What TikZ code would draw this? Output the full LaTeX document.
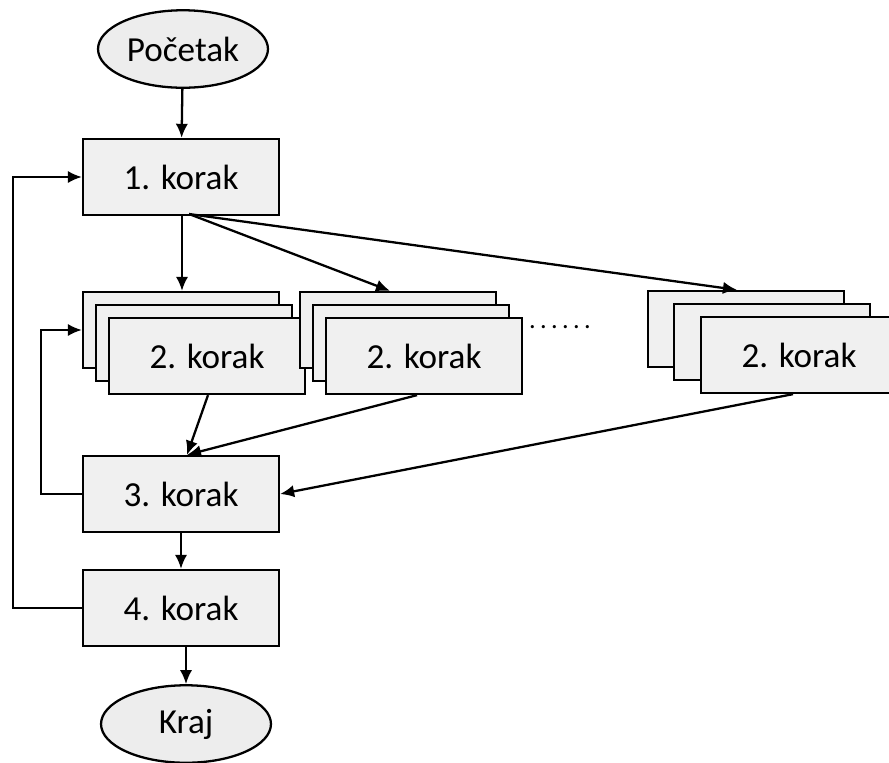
\documentclass[tikz,border=0pt]{standalone}
\usepackage{fontspec}
\setmainfont{Carlito}
\usetikzlibrary{arrows.meta,shapes.geometric}

\begin{document}
\begin{tikzpicture}[x=0.02cm, y=-0.02cm, ->, >={Latex[length=8pt,width=7pt]}, line width=1.3pt,
    korak/.style={draw, fill=black!6, minimum width=3.92cm, minimum height=1.52cm, inner sep=0pt, font=\fontsize{20}{24}\selectfont},
    kraj/.style={draw, ellipse, fill=black!7, minimum width=3.4cm, minimum height=1.55cm, inner sep=0pt, font=\fontsize{20}{24}\selectfont}]
        \useasboundingbox (0,0) rectangle (889,762);

        \node[kraj] (pocetak) at (183,49) {Početak};
        \node[korak] (k1) at (181,177) {1. korak};
        \coordinate (fan) at (189,214);

        \node[korak] (k21a) at (181,330) {};
        \node[korak] (k21b) at (194,343) {};
        \node[korak] (k21c) at (207,356) {2. korak};

        \node[korak] (k22a) at (398,330) {};
        \node[korak] (k22b) at (411,343) {};
        \node[korak] (k22c) at (424,356) {2. korak};

        \node[font=\fontsize{15}{18}\selectfont, inner sep=0pt] (dots) at (560,327) {.\,.\,.\,.\,.\,.};

        \node[korak] (k23a) at (746,329) {};
        \node[korak] (k23b) at (772,342) {};
        \node[korak] (k23c) at (799,355) {2. korak};

        \node[korak] (k3) at (181,494) {3. korak};
        \node[korak] (k4) at (181,608) {4. korak};
        \node[kraj] (kraj) at (186,724) {Kraj};

        \draw (pocetak) to (k1);
        \draw (k1.south -| 182,0) to (k21a.north -| 182,0);
        \draw (fan) to (k22a.north -| 390,0);
        \draw (fan) to (k23a.north -| 737,0);

        \draw (k21c.south -| 208,0) to (k3.north -| 187,0);
        \draw (k22c.south -| 417,0) to (k3.north -| 187,0);
        \draw (k23c.south -| 793,0) to (k3.east);

        \draw (k3) to (k4);
        \draw (k4.south -| kraj) to (kraj);

        \draw (k3.west) -- ++(-41,0) |- (k21a.west);
        \draw (k4.west) -- ++(-69,0) |- (k1.west);
      \end{tikzpicture}
\end{document}
